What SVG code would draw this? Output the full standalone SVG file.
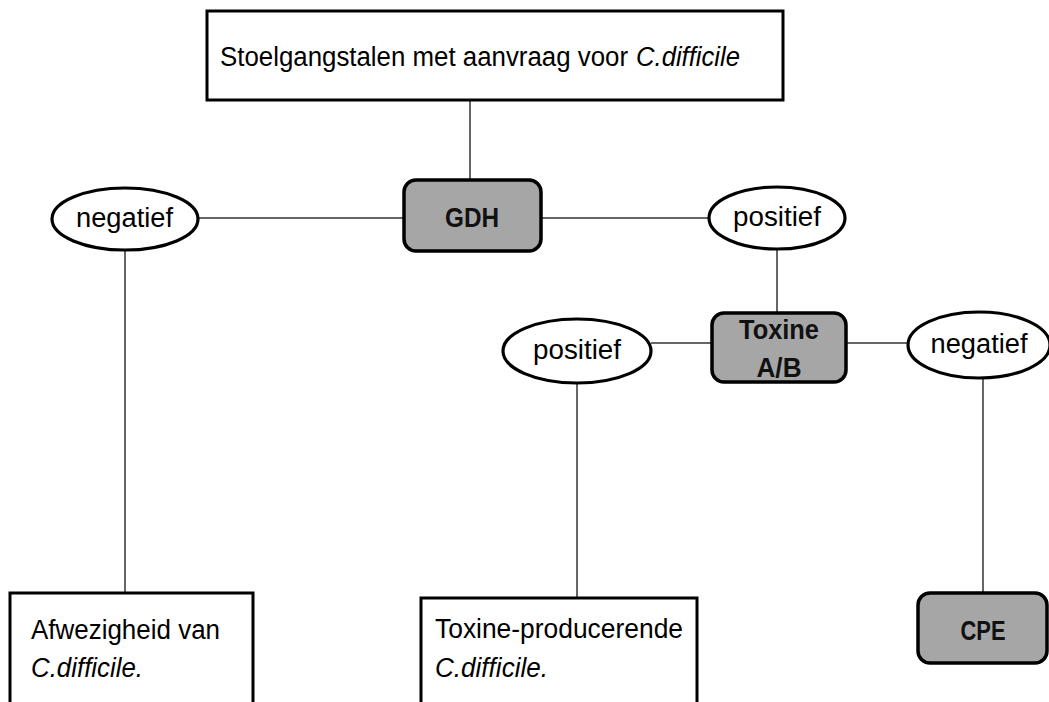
<svg xmlns="http://www.w3.org/2000/svg" width="1049" height="702" viewBox="0 0 1049 702">
<style>
.box{fill:#ffffff;stroke:#000;stroke-width:3}
.gbox{fill:#a6a6a6;stroke:#000;stroke-width:3.5}
.ell{fill:#ffffff;stroke:#000;stroke-width:3.2}
.con{stroke:#333;stroke-width:1.5;fill:none}
.t{font-family:"Liberation Sans",Arial,sans-serif;font-size:27px;fill:#000}
.b{font-family:"Liberation Sans",Arial,sans-serif;font-size:27px;font-weight:bold;fill:#111}
.i{font-style:italic}
.m{text-anchor:middle}
</style>
<rect width="1049" height="702" fill="#ffffff"/>
<g id="connectors">
<line class="con" x1="470" y1="100" x2="470" y2="180"/>
<line class="con" x1="198" y1="218" x2="404" y2="218"/>
<line class="con" x1="541" y1="218" x2="709" y2="218"/>
<line class="con" x1="125" y1="250" x2="125" y2="593"/>
<line class="con" x1="777" y1="249" x2="777" y2="313"/>
<line class="con" x1="651" y1="343" x2="712" y2="343"/>
<line class="con" x1="846" y1="343" x2="908" y2="343"/>
<line class="con" x1="577" y1="383" x2="577" y2="598"/>
<line class="con" x1="983" y1="378" x2="983" y2="593"/>
</g>
<g id="top">
<rect class="box" x="207" y="11" width="576" height="89"/>
<text class="t" x="220" y="66" textLength="408" lengthAdjust="spacingAndGlyphs">Stoelgangstalen met aanvraag voor</text>
<text class="t i" x="636" y="66" textLength="104" lengthAdjust="spacingAndGlyphs">C.difficile</text>
</g>
<g id="gdh">
<rect class="gbox" x="404" y="180" width="137" height="71" rx="12"/>
<text class="b m" x="472" y="227" textLength="54" lengthAdjust="spacingAndGlyphs">GDH</text>
</g>
<g id="neg1">
<ellipse class="ell" cx="125" cy="219" rx="73" ry="31"/>
<text class="t m" x="124.5" y="227" textLength="97" lengthAdjust="spacingAndGlyphs">negatief</text>
</g>
<g id="pos1">
<ellipse class="ell" cx="777" cy="218" rx="68" ry="31"/>
<text class="t m" x="777" y="226" textLength="88" lengthAdjust="spacingAndGlyphs">positief</text>
</g>
<g id="toxine">
<rect class="gbox" x="712" y="313" width="134" height="69" rx="12"/>
<text class="b m" x="779" y="339" textLength="80" lengthAdjust="spacingAndGlyphs">Toxine</text>
<text class="b m" x="779" y="377" textLength="45" lengthAdjust="spacingAndGlyphs">A/B</text>
</g>
<g id="pos2">
<ellipse class="ell" cx="577" cy="351" rx="74" ry="32"/>
<text class="t m" x="577" y="359" textLength="88" lengthAdjust="spacingAndGlyphs">positief</text>
</g>
<g id="neg2">
<ellipse class="ell" cx="979" cy="345" rx="71" ry="33"/>
<text class="t m" x="979" y="353" textLength="97" lengthAdjust="spacingAndGlyphs">negatief</text>
</g>
<g id="afwezig">
<rect class="box" x="10" y="593" width="243" height="120"/>
<text class="t" x="31" y="639" textLength="189" lengthAdjust="spacingAndGlyphs">Afwezigheid van</text>
<text class="t i" x="31" y="677" textLength="112" lengthAdjust="spacingAndGlyphs">C.difficile.</text>
</g>
<g id="toxprod">
<rect class="box" x="421" y="598" width="276" height="120"/>
<text class="t" x="435" y="638" textLength="248" lengthAdjust="spacingAndGlyphs">Toxine-producerende</text>
<text class="t i" x="435" y="677" textLength="113" lengthAdjust="spacingAndGlyphs">C.difficile.</text>
</g>
<g id="cpe">
<rect class="gbox" x="918" y="593" width="129" height="70" rx="12"/>
<text class="b m" x="983" y="640" textLength="45" lengthAdjust="spacingAndGlyphs">CPE</text>
</g>
</svg>
